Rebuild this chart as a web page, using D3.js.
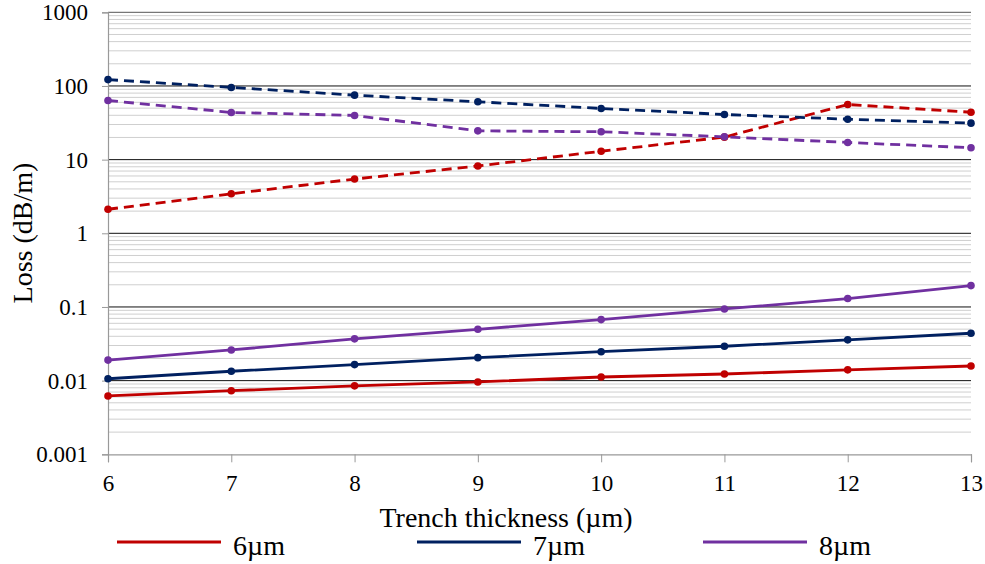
<!DOCTYPE html>
<html>
<head>
<meta charset="utf-8">
<script src="https://cdn.jsdelivr.net/npm/d3@7/dist/d3.min.js"></script>
<style>
  html, body { margin: 0; padding: 0; background: #fff; }
  svg { display: block; }
</style>
</head>
<body>
<svg id="chart" width="985" height="564"></svg>
<script>
// ---- Data ----
const thickness = [6, 7, 8, 9, 10, 11, 12, 13];
const seriesNames = ["6µm", "7µm", "8µm"];
const seriesColors = ["#C00000", "#002060", "#7030A0"];

// solid lines (lower group)
const solid6 = [0.0062, 0.0073, 0.0085, 0.0096, 0.0112, 0.0123, 0.0140, 0.0158];
const solid7 = [0.0106, 0.0134, 0.0165, 0.0205, 0.0247, 0.0293, 0.0358, 0.0440];
const solid8 = [0.0190, 0.0261, 0.0369, 0.0498, 0.0674, 0.0940, 0.1300, 0.1950];

// dashed lines (upper group)
const dashed6 = [2.12, 3.44, 5.45, 8.2, 13.0, 20.2, 56, 44];
const dashed7 = [122, 95.5, 75, 61, 49.5, 41, 35.4, 31.3];
const dashed8 = [63.5, 43.7, 39.8, 24.6, 23.9, 20.4, 17.1, 14.5];

const yTickValues = [0.001, 0.01, 0.1, 1, 10, 100, 1000];
const yTickLabels = ["0.001", "0.01", "0.1", "1", "10", "100", "1000"];
const xTitle = "Trench thickness (µm)";
const yTitle = "Loss (dB/m)";

// ---- Layout ----
const FONT = "Liberation Serif";
const svg = d3.select("#chart");
const plotLeft = 108, plotRight = 971, plotTop = 12.3, plotBottom = 454.3;

const x = d3.scaleLinear().domain([6, 13]).range([plotLeft, plotRight]);
const y = d3.scaleLog().domain([0.001, 1000]).range([plotBottom, plotTop]);

// minor gridlines
const minor = [];
for (let e = -3; e < 3; e++) {
  for (let m = 2; m <= 9; m++) minor.push(m * Math.pow(10, e));
}
svg.append("g").selectAll("line").data(minor).join("line")
  .attr("x1", plotLeft).attr("x2", plotRight)
  .attr("y1", d => y(d)).attr("y2", d => y(d))
  .attr("stroke", "#cfcfcf").attr("stroke-width", 1);

// major gridlines
svg.append("g").selectAll("line").data(yTickValues.slice(1)).join("line")
  .attr("x1", plotLeft).attr("x2", plotRight)
  .attr("y1", d => y(d)).attr("y2", d => y(d))
  .attr("stroke", d => d === 1000 ? "#555" : "#111").attr("stroke-width", 1);

// y axis
const yAxis = d3.axisLeft(y).tickValues(yTickValues)
  .tickFormat((d, i) => yTickLabels[i]).tickSize(6).tickPadding(14);
const gy = svg.append("g").attr("transform", `translate(${plotLeft},0)`).call(yAxis);
gy.attr("font-family", null).attr("font-size", null);
gy.select(".domain").attr("stroke", "#999").attr("stroke-width", 1.2);
gy.selectAll(".tick line").attr("stroke", "#999");
gy.selectAll(".tick text").attr("fill", "#000")
  .attr("font-family", FONT).attr("font-size", 23);

// x axis
const xAxis = d3.axisBottom(x).tickValues(thickness).tickFormat(d3.format("d"))
  .tickSize(8).tickPadding(12);
const gx = svg.append("g").attr("transform", `translate(0,${plotBottom})`).call(xAxis);
gx.attr("font-family", null).attr("font-size", null);
gx.select(".domain").attr("stroke", "#999").attr("stroke-width", 1.2);
gx.selectAll(".tick line").attr("stroke", "#999");
gx.selectAll(".tick text").attr("fill", "#000")
  .attr("font-family", FONT).attr("font-size", 23);

// series
const solidSeries = [solid6, solid7, solid8];
const dashedSeries = [dashed6, dashed7, dashed8];
const line = d3.line().x((d, i) => x(thickness[i])).y(d => y(d));

function drawSeries(vals, color, dashed) {
  const g = svg.append("g");
  g.append("path").datum(vals)
    .attr("d", line)
    .attr("fill", "none")
    .attr("stroke", color)
    .attr("stroke-width", 2.8)
    .attr("stroke-dasharray", dashed ? "10,6" : null);
  g.selectAll("circle").data(vals).join("circle")
    .attr("cx", (d, i) => x(thickness[i]))
    .attr("cy", d => y(d))
    .attr("r", 3.8)
    .attr("fill", color);
}
solidSeries.forEach((s, i) => drawSeries(s, seriesColors[i], false));
dashedSeries.forEach((s, i) => drawSeries(s, seriesColors[i], true));

// axis titles
svg.append("text")
  .attr("x", 506).attr("y", 527)
  .attr("text-anchor", "middle")
  .attr("font-family", FONT).attr("font-size", 28).attr("fill", "#000")
  .text(xTitle);

svg.append("text")
  .attr("transform", `translate(32,233) rotate(-90)`)
  .attr("text-anchor", "middle")
  .attr("font-family", FONT).attr("font-size", 28).attr("fill", "#000")
  .text(yTitle);

// legend
const legendX = [117, 417, 703];
const legendY = 542;
seriesNames.forEach((name, i) => {
  const g = svg.append("g").attr("transform", `translate(${legendX[i]},${legendY})`);
  g.append("line").attr("x1", 0).attr("x2", 104).attr("y1", 0).attr("y2", 0)
    .attr("stroke", seriesColors[i]).attr("stroke-width", 3);
  g.append("text").attr("x", 116).attr("y", 13)
    .attr("font-family", FONT).attr("font-size", 28).attr("fill", "#000")
    .text(name);
});
</script>
</body>
</html>
